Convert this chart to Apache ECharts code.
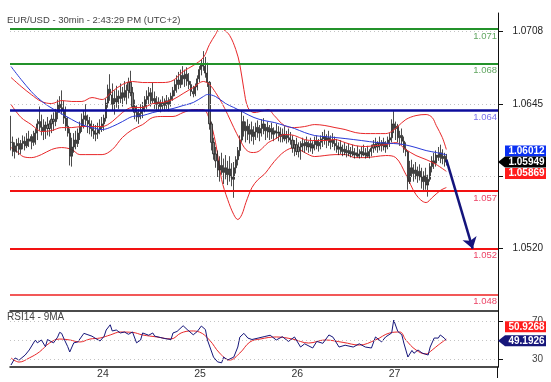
<!DOCTYPE html>
<html><head><meta charset="utf-8">
<script src="https://cdn.jsdelivr.net/npm/echarts@6/dist/echarts.min.js"></script>
<style>html,body{margin:0;padding:0;background:#fff}#c{width:551px;height:382px}</style>
</head><body><div id="c"></div>
<script>
// ---------- time axis (30-min bars, 23rd 03:00 onwards) ----------
const startDay = 23, startMinutes = 180, slotCount = 241;
const labelledDays = [24, 25, 26, 27];
const timeLabels = [];
for (let k = 0; k < slotCount; k++) {
  const m = startMinutes + 30 * k;
  const d = startDay + Math.floor(m / 1440);
  const mm = m % 1440;
  timeLabels.push(d + ' ' + String(Math.floor(mm / 60)).padStart(2, '0') + ':' + String(mm % 60).padStart(2, '0'));
}

// ---------- price bars ----------
const closes = [
1.0612,1.0604,1.0609,1.0611,1.0606,1.0611,1.0613,1.0609,1.0615,1.0613,
1.0617,1.0612,1.0620,1.0628,1.0630,1.0625,1.0622,1.0627,1.0624,1.0628,
1.0632,1.0630,1.0638,1.0645,1.0642,1.0640,1.0633,1.0626,1.0620,1.0600,
1.0608,1.0614,1.0611,1.0620,1.0626,1.0632,1.0635,1.0631,1.0628,1.0624,
1.0622,1.0619,1.0620,1.0623,1.0625,1.0628,1.0633,1.0646,1.0658,1.0653,
1.0645,1.0650,1.0647,1.0652,1.0650,1.0655,1.0651,1.0657,1.0664,1.0655,
1.0643,1.0638,1.0634,1.0637,1.0640,1.0643,1.0649,1.0652,1.0655,1.0648,
1.0650,1.0645,1.0647,1.0643,1.0646,1.0644,1.0648,1.0645,1.0649,1.0652,
1.0657,1.0662,1.0666,1.0662,1.0670,1.0667,1.0671,1.0665,1.0662,1.0656,
1.0654,1.0660,1.0667,1.0675,1.0680,1.0678,1.0672,1.0664,1.0628,1.0612,
1.0602,1.0596,1.0588,1.0592,1.0586,1.0590,1.0584,1.0589,1.0582,1.0580,
1.0590,1.0597,1.0605,1.0614,1.0630,1.0622,1.0626,1.0619,1.0623,1.0617,
1.0621,1.0625,1.0620,1.0624,1.0628,1.0622,1.0625,1.0621,1.0624,1.0619,
1.0622,1.0620,1.0621,1.0617,1.0619,1.0615,1.0618,1.0616,1.0614,1.0607,
1.0610,1.0604,1.0608,1.0611,1.0609,1.0612,1.0608,1.0611,1.0607,1.0610,
1.0613,1.0609,1.0612,1.0615,1.0617,1.0614,1.0616,1.0612,1.0614,1.0611,
1.0609,1.0606,1.0608,1.0604,1.0606,1.0603,1.0605,1.0602,1.0604,1.0601,
1.0603,1.0600,1.0602,1.0604,1.0601,1.0603,1.0600,1.0604,1.0607,1.0610,
1.0608,1.0611,1.0609,1.0612,1.0608,1.0611,1.0614,1.0616,1.0628,1.0624,
1.0626,1.0616,1.0618,1.0613,1.0606,1.0604,1.0578,1.0590,1.0585,1.0588,
1.0583,1.0587,1.0582,1.0578,1.0583,1.0575,1.0580,1.0591,1.0596,1.0594,
1.0601,1.0599,1.0603,1.0598,1.0600,1.05949];
const highs = [
1.0635,1.0617,1.0612,1.0615,1.0616,1.0614,1.0618,1.0617,1.0620,1.0622,
1.0619,1.0622,1.0624,1.0632,1.0643,1.0636,1.0632,1.0630,1.0634,1.0631,
1.0636,1.0638,1.0641,1.0649,1.0652,1.0657,1.0648,1.0643,1.0634,1.0624,
1.0616,1.0620,1.0622,1.0624,1.0630,1.0637,1.0640,1.0645,1.0636,1.0634,
1.0631,1.0628,1.0627,1.0629,1.0632,1.0634,1.0636,1.0650,1.0662,1.0671,
1.0663,1.0657,1.0661,1.0657,1.0663,1.0660,1.0665,1.0662,1.0668,1.0674,
1.0660,1.0649,1.0644,1.0641,1.0645,1.0647,1.0652,1.0657,1.0660,1.0659,
1.0664,1.0656,1.0652,1.0651,1.0649,1.0652,1.0650,1.0653,1.0651,1.0655,
1.0660,1.0666,1.0670,1.0673,1.0675,1.0678,1.0675,1.0677,1.0672,1.0665,
1.0661,1.0663,1.0670,1.0678,1.0684,1.0691,1.0686,1.0681,1.0665,1.0630,
1.0616,1.0608,1.0605,1.0600,1.0603,1.0598,1.0601,1.0596,1.0600,1.0594,
1.0595,1.0600,1.0608,1.0618,1.0640,1.0635,1.0630,1.0632,1.0628,1.0630,
1.0626,1.0629,1.0631,1.0627,1.0632,1.0633,1.0628,1.0630,1.0627,1.0629,
1.0625,1.0628,1.0626,1.0625,1.0624,1.0626,1.0622,1.0624,1.0621,1.0618,
1.0614,1.0616,1.0612,1.0613,1.0616,1.0614,1.0617,1.0613,1.0616,1.0613,
1.0617,1.0618,1.0615,1.0618,1.0621,1.0623,1.0619,1.0622,1.0618,1.0620,
1.0617,1.0615,1.0612,1.0614,1.0610,1.0612,1.0609,1.0611,1.0608,1.0610,
1.0607,1.0609,1.0606,1.0608,1.0610,1.0607,1.0609,1.0606,1.0610,1.0614,
1.0616,1.0613,1.0617,1.0614,1.0616,1.0613,1.0617,1.0620,1.0632,1.0639,
1.0630,1.0628,1.0622,1.0624,1.0617,1.0612,1.0605,1.0596,1.0597,1.0593,
1.0595,1.0591,1.0593,1.0590,1.0587,1.0590,1.0584,1.0594,1.0600,1.0603,
1.0605,1.0608,1.0610,1.0606,1.0603,1.0602];
const lows = [
1.0605,1.0600,1.0598,1.0603,1.0601,1.0602,1.0606,1.0605,1.0607,1.0608,
1.0606,1.0609,1.0610,1.0614,1.0622,1.0618,1.0614,1.0615,1.0618,1.0617,
1.0620,1.0622,1.0626,1.0632,1.0638,1.0636,1.0628,1.0622,1.0617,1.0592,
1.0591,1.0603,1.0606,1.0608,1.0614,1.0621,1.0624,1.0627,1.0620,1.0619,
1.0617,1.0615,1.0613,1.0615,1.0619,1.0621,1.0622,1.0630,1.0642,1.0648,
1.0640,1.0636,1.0642,1.0641,1.0646,1.0643,1.0648,1.0645,1.0650,1.0652,
1.0640,1.0632,1.0630,1.0628,1.0632,1.0633,1.0638,1.0641,1.0645,1.0643,
1.0646,1.0641,1.0640,1.0639,1.0638,1.0640,1.0639,1.0641,1.0639,1.0643,
1.0648,1.0652,1.0655,1.0658,1.0659,1.0662,1.0660,1.0661,1.0658,1.0652,
1.0651,1.0652,1.0657,1.0664,1.0670,1.0674,1.0668,1.0660,1.0623,1.0605,
1.0597,1.0590,1.0582,1.0578,1.0584,1.0576,1.0580,1.0575,1.0578,1.0574,
1.0564,1.0585,1.0592,1.0600,1.0612,1.0617,1.0612,1.0614,1.0611,1.0613,
1.0610,1.0614,1.0616,1.0613,1.0617,1.0619,1.0614,1.0616,1.0614,1.0615,
1.0613,1.0615,1.0613,1.0612,1.0612,1.0613,1.0611,1.0612,1.0610,1.0603,
1.0600,1.0601,1.0599,1.0597,1.0604,1.0603,1.0605,1.0603,1.0604,1.0602,
1.0605,1.0606,1.0604,1.0606,1.0608,1.0610,1.0607,1.0609,1.0606,1.0608,
1.0605,1.0603,1.0601,1.0602,1.0600,1.0601,1.0599,1.0600,1.0599,1.0600,
1.0598,1.0599,1.0598,1.0599,1.0600,1.0598,1.0599,1.0598,1.0600,1.0603,
1.0605,1.0603,1.0605,1.0604,1.0605,1.0603,1.0606,1.0608,1.0612,1.0620,
1.0614,1.0612,1.0609,1.0610,1.0603,1.0600,1.0571,1.0576,1.0582,1.0578,
1.0580,1.0577,1.0579,1.0572,1.0569,1.0571,1.0565,1.0578,1.0586,1.0589,
1.0591,1.0596,1.0594,1.0593,1.0591,1.0592];

// ---------- overlays: [bar index, price] ----------
const upperBand = [[0,1.06682],[5,1.06604],[10,1.06534],[15,1.06474],[20,1.06456],[25,1.06482],[30,1.06474],[35,1.06474],[40,1.06508],[45,1.06491],[50,1.06560],[55,1.06621],[60,1.06647],[65,1.06638],[70,1.06638],[75,1.06638],[80,1.06656],[85,1.06734],[90,1.06785],[95,1.06855],[98,1.06967],[101,1.07054],[103,1.07106],[105,1.07097],[108,1.07045],[111,1.06924],[113,1.06794],[115,1.06578],[117,1.06422],[120,1.06378],[125,1.06396],[127,1.06404],[130,1.06352],[135,1.06266],[140,1.06248],[145,1.06257],[150,1.06274],[155,1.06266],[160,1.06248],[165,1.06231],[170,1.06205],[175,1.06196],[180,1.06196],[185,1.06196],[188,1.06214],[191,1.06257],[195,1.06318],[200,1.06352],[205,1.06361],[208,1.06335],[210,1.06266],[213,1.06162],[215,1.06058]];
const middleBand = [[0,1.06448],[5,1.06335],[10,1.06274],[13,1.06231],[15,1.06214],[20,1.06222],[25,1.06248],[30,1.06248],[35,1.06257],[40,1.06257],[45,1.06257],[50,1.06300],[55,1.06378],[60,1.06422],[65,1.06422],[70,1.06456],[75,1.06465],[80,1.06491],[85,1.06543],[90,1.06595],[95,1.06647],[98,1.06621],[101,1.06552],[104,1.06465],[107,1.06361],[110,1.06248],[113,1.06144],[116,1.06058],[119,1.06032],[122,1.06040],[125,1.06084],[127,1.06118],[130,1.06144],[135,1.06188],[140,1.06179],[145,1.06144],[150,1.06136],[155,1.06136],[160,1.06144],[165,1.06118],[170,1.06092],[175,1.06084],[180,1.06092],[185,1.06101],[190,1.06118],[195,1.06058],[200,1.06006],[205,1.05971],[210,1.05928],[215,1.05869]];
const lowerBand = [[0,1.06075],[3,1.06040],[6,1.05997],[10,1.05988],[15,1.06014],[20,1.06058],[25,1.06075],[30,1.06058],[34,1.06014],[40,1.06014],[45,1.06014],[50,1.06058],[55,1.06162],[60,1.06231],[65,1.06274],[70,1.06335],[75,1.06344],[80,1.06344],[85,1.06378],[90,1.06404],[95,1.06404],[98,1.06318],[101,1.06118],[104,1.05798],[107,1.05625],[110,1.05495],[112,1.05452],[114,1.05495],[116,1.05599],[119,1.05729],[122,1.05798],[125,1.05842],[127,1.05885],[130,1.05954],[135,1.06040],[140,1.06075],[145,1.06032],[150,1.05997],[155,1.06006],[160,1.06014],[165,1.06014],[170,1.05988],[175,1.05988],[180,1.05997],[185,1.06006],[190,1.05988],[195,1.05842],[200,1.05668],[205,1.05599],[208,1.05642],[212,1.05703],[215,1.05729]];
const maLine = [[0,1.06777],[5,1.06664],[10,1.06560],[13,1.06508],[18,1.06439],[24,1.06378],[30,1.06318],[35,1.06274],[40,1.06248],[45,1.06231],[50,1.06257],[55,1.06300],[60,1.06344],[65,1.06352],[70,1.06378],[75,1.06396],[80,1.06413],[85,1.06439],[90,1.06465],[95,1.06517],[97,1.06534],[101,1.06517],[106,1.06456],[110,1.06422],[115,1.06378],[120,1.06335],[125,1.06309],[130,1.06292],[135,1.06266],[140,1.06240],[145,1.06205],[150,1.06179],[155,1.06170],[160,1.06162],[165,1.06153],[173,1.06136],[181,1.06118],[189,1.06110],[194,1.06101],[200,1.06075],[205,1.06049],[210,1.06032],[215,1.06012]];

// ---------- RSI pane ----------
const rsiLine = [[0,23.7],[2,31.1],[4,28.9],[7,34.2],[9,39.5],[12,50],[13,47],[15,50],[17,43],[18,50.5],[21,47],[23,53],[24,58],[25,57],[26,52],[28,43],[29,37.4],[31,47],[33,48],[36,57],[38,55.5],[40,54],[43,50],[44,49],[46,54],[47,60.5],[49,66],[50,59.5],[52,60.5],[54,57.4],[56,58.4],[58,56],[60,58.4],[62,47],[64,50],[65,57.4],[68,55],[70,57.4],[71,54],[74,52.5],[76,51.5],[79,50.5],[80,57.4],[82,59],[85,65],[87,61],[90,55.5],[92,59],[94,64.7],[96,61],[97,50],[100,32],[102,27],[104,26],[105,32],[107,29],[108,30],[110,32],[112,42.6],[113,53],[115,57],[117,52],[119,50.5],[122,52],[125,53.5],[128,55],[131,50],[134,53.5],[137,48.5],[140,53.2],[143,42.6],[145,46],[149,41.6],[151,48.5],[154,46.5],[157,55.3],[159,53],[162,42.6],[165,44.5],[169,42.6],[172,46],[175,42.6],[178,41.6],[180,53.2],[183,48],[185,53.2],[188,57.4],[189,71],[191,59],[193,55.5],[194,46.8],[196,32.1],[198,39],[199,36],[201,39.5],[203,36.3],[206,34.2],[207,42.6],[209,52.1],[211,52],[212,55.3],[214,52],[215,49.1926]];
const rsiMa = [[0,31.1],[4,26.8],[9,31.1],[14,37.4],[19,46.8],[24,51],[29,50],[34,47.9],[39,51],[44,52.1],[49,55.3],[54,58.4],[60,58],[65,55.3],[72,53.2],[79,51.1],[84,57.4],[89,59.5],[93,58.4],[98,50],[103,36.3],[108,28.9],[113,36.3],[118,47.9],[123,51],[131,53.2],[139,51],[147,46.8],[155,50],[164,47.5],[172,44.7],[180,50],[187,57.4],[192,58.4],[195,50],[200,39.5],[205,35.3],[208,39.5],[211,44.7],[215,50.9268]];

// ---------- levels / ticks ----------
const levelValues = [1.071, 1.068, 1.064, 1.057, 1.052, 1.048];
const levelKinds  = ['g','g','b','r','r','r2'];
const priceTickValues = [1.0520, 1.05825, 1.0645, 1.0708];
const priceLabelValues = [1.0520, 1.0645, 1.0708];
const rsiGridValues = [30, 50, 70];
const rsiLabelValues = [30, 70];
const arrowFrom = [215, 1.0597];
const arrowTo = [228, 1.0520];

const FONT = 'Arial, "Liberation Sans", sans-serif';
const isDayTick = (i) => {
  const t = timeLabels[i];
  return /00:00$/.test(t) && labelledDays.indexOf(+t.split(' ')[0]) >= 0;
};

const ohlc = closes.map((c, i) => [i === 0 ? c : closes[i - 1], c, lows[i], highs[i]]);

const levelStyle = {
  g:  {line: {color: '#23922a', width: 2}, label: '#63a763'},
  b:  {line: {color: '#0c0c9c', width: 2.5}, label: '#7b72ec'},
  r:  {line: {color: '#f21212', width: 2}, label: '#ec4466'},
  r2: {line: {color: '#ee2020', width: 1.5}, label: '#ec4466'}
};

const chart = echarts.init(document.getElementById('c'), null, {renderer: 'canvas'});
const option = {
  animation: false,
  backgroundColor: '#fff',
  title: [
    {text: 'EUR/USD - 30min - 2:43:29 PM (UTC+2)', left: 7, top: 15, padding: 0,
     textStyle: {fontFamily: FONT, fontSize: 9.5, fontWeight: 'normal', color: '#444'}},
    {text: 'RSI14 - 9MA', left: 7, top: 312, padding: 0,
     textStyle: {fontFamily: FONT, fontSize: 10, fontWeight: 'normal', color: '#444'}}
  ],
  grid: [
    {left: 10, right: 53, top: 13, height: 298},
    {left: 10, right: 53, top: 311, height: 56}
  ],
  xAxis: [
    {type: 'category', gridIndex: 0, data: timeLabels, boundaryGap: true,
     axisLine: {lineStyle: {color: '#111', width: 1.5}}, axisTick: {show: false}, axisLabel: {show: false}, splitLine: {show: false}},
    {type: 'category', gridIndex: 1, data: timeLabels, boundaryGap: true,
     axisLine: {lineStyle: {color: '#111', width: 1.5}},
     axisTick: {interval: (i) => isDayTick(i), alignWithLabel: true, length: 5, lineStyle: {color: '#111'}},
     axisLabel: {interval: (i) => isDayTick(i), formatter: (v) => v.split(' ')[0], align: 'left', margin: 2,
                 padding: [0, 0, 0, 1], color: '#333', fontSize: 10.5, fontFamily: FONT},
     splitLine: {show: false}}
  ],
  yAxis: [
    {type: 'value', gridIndex: 0, position: 'right', min: 1.0466, max: 1.0724,
     axisLine: {show: true, lineStyle: {color: '#111'}},
     axisTick: {show: true, customValues: priceTickValues, length: 5, lineStyle: {color: '#111'}},
     axisLabel: {customValues: priceLabelValues, formatter: (v) => v.toFixed(4), align: 'right', margin: 45,
                 color: '#222', fontSize: 10, fontFamily: FONT},
     splitLine: {show: false}},
    {type: 'value', gridIndex: 1, position: 'right', min: 21.6, max: 80.5,
     axisLine: {show: true, lineStyle: {color: '#111'}},
     axisTick: {show: true, customValues: rsiLabelValues, length: 5, lineStyle: {color: '#111'}},
     axisLabel: {customValues: rsiLabelValues, formatter: (v) => String(v), align: 'right', margin: 45,
                 color: '#444', fontSize: 10, fontFamily: FONT},
     splitLine: {show: false}}
  ],
  series: [
    {type: 'candlestick', name: 'EUR/USD', xAxisIndex: 0, yAxisIndex: 0, data: ohlc, z: 2, barWidth: 1.6,
     itemStyle: {color: '#858585', color0: '#858585', borderColor: '#1e1e1e', borderColor0: '#1e1e1e', borderWidth: 0.8}},
    {type: 'line', name: 'BB upper', data: upperBand, smooth: 0.35, showSymbol: false, z: 3,
     lineStyle: {color: '#e8282a', width: 1}},
    {type: 'line', name: 'BB mid', data: middleBand, smooth: 0.35, showSymbol: false, z: 3,
     lineStyle: {color: '#e8282a', width: 1}},
    {type: 'line', name: 'BB lower', data: lowerBand, smooth: 0.35, showSymbol: false, z: 1,
     lineStyle: {color: '#e8282a', width: 1},
     markLine: {silent: true, symbol: 'none', label: {show: false}, animation: false, precision: 6,
                lineStyle: {color: '#c4c4c4', width: 1, type: [1, 3]},
                data: priceTickValues.map(v => ({yAxis: v}))}},
    {type: 'line', name: 'MA', data: maLine, smooth: 0.35, showSymbol: false, z: 4,
     lineStyle: {color: '#2a3ad8', width: 1},
     markLine: {silent: true, symbol: 'none', animation: false, precision: 6,
       data: levelValues.map((v, k) => ({
         yAxis: v,
         lineStyle: {color: levelStyle[levelKinds[k]].line.color, width: levelStyle[levelKinds[k]].line.width, type: 'solid'},
         label: {show: true, position: 'insideEndBottom', distance: [1, 2], formatter: v.toFixed(3),
                 color: levelStyle[levelKinds[k]].label, fontSize: 9.5, fontFamily: FONT}
       }))}},
    {type: 'line', name: 'arrow', xAxisIndex: 0, yAxisIndex: 0, data: [], z: 5, silent: true,
     markLine: {silent: true, symbol: ['none', 'arrow'], symbolSize: 11, label: {show: false}, precision: 6,
       lineStyle: {color: '#14147c', width: 2.5, type: 'solid'},
       data: [[{coord: arrowFrom}, {coord: arrowTo}]]}},
    {type: 'line', name: 'RSI14', xAxisIndex: 1, yAxisIndex: 1, data: rsiLine, showSymbol: false, z: 3,
     lineStyle: {color: '#16167a', width: 1}},
    {type: 'line', name: '9MA', xAxisIndex: 1, yAxisIndex: 1, data: rsiMa, smooth: 0.4, showSymbol: false, z: 2,
     lineStyle: {color: '#e8282a', width: 1},
     markLine: {silent: true, symbol: 'none', label: {show: false}, animation: false,
                lineStyle: {color: '#c4c4c4', width: 1, type: [1, 3]},
                data: rsiGridValues.map(v => ({yAxis: v}))}}
  ]
};
chart.setOption(option);

// ---------- value tags on the right ----------
const yP = (v) => chart.convertToPixel({yAxisIndex: 0}, v);
const yR = (v) => chart.convertToPixel({yAxisIndex: 1}, v);
const axisX = 498, boxL = 505, boxR = 546, h = 11;
function tag(cy, txt, bg, arrow) {
  const pts = arrow
    ? [[axisX, cy], [boxL, cy - h / 2], [boxR, cy - h / 2], [boxR, cy + h / 2], [boxL, cy + h / 2]]
    : [[boxL, cy - h / 2], [boxR, cy - h / 2], [boxR, cy + h / 2], [boxL, cy + h / 2]];
  return [
    {type: 'polygon', shape: {points: pts}, style: {fill: bg}, z: 100},
    {type: 'text', x: (boxL + boxR) / 2 + 1, y: cy, z: 101,
     style: {text: txt, fill: '#fff', font: 'bold 10px ' + FONT, textAlign: 'center', textVerticalAlign: 'middle'}}
  ];
}
const lastClose = closes[closes.length - 1];
const lastMa = maLine[maLine.length - 1][1];
const lastMid = middleBand[middleBand.length - 1][1];
const lastRsi = rsiLine[rsiLine.length - 1][1];
const lastRsiMa = rsiMa[rsiMa.length - 1][1];
const yc = yP(lastClose), yr = yR(lastRsi);
const yBottom = yR(21.6);
chart.setOption({graphic: [].concat(
  [{type: 'line', shape: {x1: axisX - 0.5, y1: yBottom, x2: axisX - 0.5, y2: yBottom + 11}, style: {stroke: '#111', lineWidth: 1}, z: 50}],
  tag(yc - 11, lastMa.toFixed(5), '#0a30f2', false),
  tag(yc + 11.5, lastMid.toFixed(5), '#ff1c1c', false),
  tag(yc, lastClose.toFixed(5), '#000', true),
  tag(yr - 14, lastRsiMa.toFixed(4), '#ff1c1c', false),
  tag(yr, lastRsi.toFixed(4), '#16167a', true)
)});
</script></body></html>
